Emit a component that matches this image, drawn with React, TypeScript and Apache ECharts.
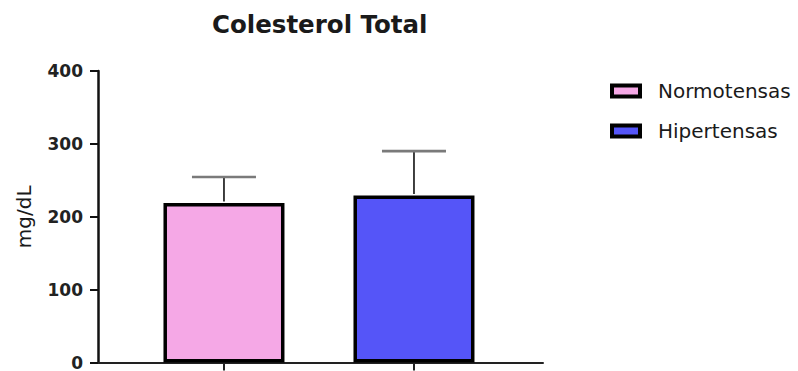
import React, { useEffect, useRef } from "react";
import * as echarts from "echarts";

// Group means and standard deviations (mg/dL)
const groups = ["Normotensas", "Hipertensas"];
const means = [219, 229];
const sds = [35.5, 61];
const groupColors = ["#F5A8E6", "#5555F8"];
const yTicks = [0, 100, 200, 300, 400];

const FONT = "DejaVu Sans";

export default function App() {
  const ref = useRef<HTMLDivElement>(null);

  useEffect(() => {
    if (!ref.current) return;
    const chart = echarts.init(ref.current, null, { renderer: "svg" });

    const barSeries = groups.map((name, i) => ({
      name,
      type: "bar",
      data: [[i, means[i]]],
      barWidth: 121,
      barGap: "-100%",
      itemStyle: {
        color: groupColors[i],
        borderColor: "#000",
        borderWidth: 3.5,
      },
      z: 2,
    }));

    const errorData = groups.map((_, i) => [i, means[i], sds[i]]);

    chart.setOption({
      animation: false,
      backgroundColor: "#fff",
      title: {
        text: "Colesterol Total",
        left: 212,
        top: 12,
        padding: 0,
        textStyle: {
          fontFamily: FONT,
          fontWeight: "bold",
          fontSize: 24.5,
          color: "#1a1a1a",
        },
      },
      legend: {
        orient: "vertical",
        left: 610,
        top: 81,
        padding: 0,
        itemWidth: 28,
        itemHeight: 11,
        itemGap: 20,
        icon: "rect",
        data: groups,
        itemStyle: { borderColor: "#000", borderWidth: 4 },
        textStyle: {
          fontFamily: FONT,
          fontSize: 20,
          color: "#1a1a1a",
          padding: [0, 0, 0, 13],
        },
      },
      grid: { left: 98, right: 255, top: 71, bottom: 5 },
      xAxis: {
        type: "value",
        min: -0.663,
        max: 1.679,
        splitLine: { show: false },
        axisLabel: { show: false },
        axisLine: { show: true, onZero: false, lineStyle: { color: "#222", width: 2 } },
        axisTick: {
          show: true,
          customValues: [0, 1],
          length: 8,
          lineStyle: { color: "#222", width: 2 },
        },
      },
      yAxis: {
        type: "value",
        min: yTicks[0],
        max: yTicks[yTicks.length - 1],
        interval: 100,
        name: "mg/dL",
        nameLocation: "middle",
        nameGap: 64,
        nameRotate: 90,
        nameTextStyle: { fontFamily: FONT, fontSize: 20, color: "#1a1a1a" },
        splitLine: { show: false },
        axisLine: { show: true, onZero: false, lineStyle: { color: "#111", width: 2.5 } },
        axisTick: {
          show: true,
          length: 8,
          lineStyle: { color: "#111", width: 2 },
        },
        axisLabel: {
          margin: 15,
          fontFamily: FONT,
          fontWeight: "bold",
          fontSize: 17,
          color: "#222",
        },
      },
      series: [
        ...barSeries,
        {
          name: "sd",
          type: "custom",
          data: errorData,
          encode: { x: 0, y: 1 },
          z: 3,
          renderItem: (params: any, api: any) => {
            const x = api.value(0);
            const m = api.value(1);
            const e = api.value(2);
            const base = api.coord([x, m]);
            const top = api.coord([x, m + e]);
            return {
              type: "group",
              children: [
                {
                  type: "line",
                  shape: { x1: base[0], y1: base[1] - 1.5, x2: top[0], y2: top[1] },
                  style: { stroke: "#111", lineWidth: 1.6 },
                },
                {
                  type: "line",
                  shape: { x1: top[0] - 32, y1: top[1], x2: top[0] + 32, y2: top[1] },
                  style: { stroke: "#7a7a7a", lineWidth: 2.6 },
                },
              ],
            };
          },
        },
      ],
    });

    return () => chart.dispose();
  }, []);

  return (
    <div
      ref={ref}
      style={{ position: "fixed", left: 0, top: 0, width: 798, height: 371 }}
    />
  );
}
